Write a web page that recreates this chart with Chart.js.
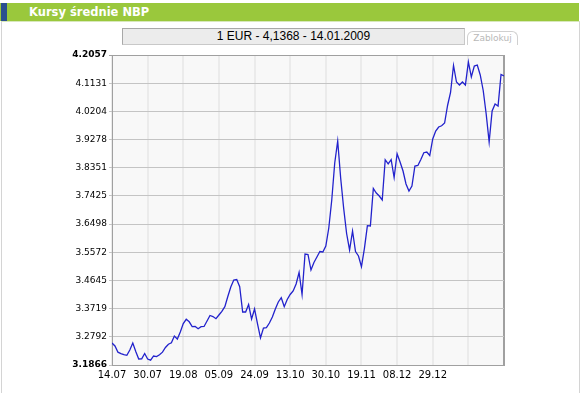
<!DOCTYPE html>
<html>
<head>
<meta charset="utf-8">
<script src="https://cdn.jsdelivr.net/npm/chart.js@4/dist/chart.umd.min.js"></script>
<style>
  html, body { margin: 0; padding: 0; background: #fff; }
  body { width: 584px; height: 393px; position: relative; overflow: hidden; font-family: "DejaVu Sans", Verdana, sans-serif; }
  #frame { position: absolute; left: 1px; top: 21px; width: 577px; height: 380px; border-left: 1px solid #d4d4d4; border-right: 1px solid #d4d4d4; border-top: 1px solid #d8e8bc; }
  #bar { position: absolute; left: 0; top: 3px; width: 579px; height: 18px; background: #9ac83c; }
  #stripe { position: absolute; left: 1px; top: 3px; width: 6px; height: 18px; background: #2b4f8f; }
  #title { position: absolute; left: 29px; top: 4px; line-height: 16px; color: #fff; font-weight: bold; font-size: 11.5px; font-family: "DejaVu Sans", Verdana, sans-serif; }
  #info { position: absolute; left: 122px; top: 28px; width: 341px; height: 15px; background: #ececec; border: 1px solid #a8a8a8; border-right-color: #c8c8c8; border-bottom-color: #c8c8c8; text-align: center; font-family: "Liberation Sans", Arial, sans-serif; font-size: 12px; line-height: 15px; color: #000; }
  #lock { position: absolute; left: 467px; top: 31px; width: 49px; height: 13px; border: 1px solid #d0d0d0; border-bottom: none; border-radius: 6px 6px 0 0; font-family: "DejaVu Sans", Verdana, sans-serif; font-size: 9px; line-height: 13px; color: #b8b8b8; text-align: center; background: #fff; }
  canvas { position: absolute; left: 0; top: 0; }
</style>
</head>
<body>
<div id="frame"></div>
<div id="bar"></div>
<div id="stripe"></div>
<div id="title">Kursy średnie NBP</div>
<div id="info"></div>
<div id="lock">Zablokuj</div>
<canvas id="c" width="584" height="393"></canvas>
<script>
// ---- data ----
const currency = "EUR";
const lastDate = "14.01.2009";
const xTickLabels = ["14.07", "30.07", "19.08", "05.09", "24.09", "13.10", "30.10", "19.11", "08.12", "29.12", "", ""];
const yTickValues = [3.1866, 3.2792, 3.3719, 3.4645, 3.5572, 3.6498, 3.7425, 3.8351, 3.9278, 4.0204, 4.1131, 4.2057];
const eurRates = [
  3.2589, 3.2491, 3.2287, 3.2238, 3.2205, 3.2185, 3.2359, 3.2589, 3.2310, 3.2063,
  3.2070, 3.2244, 3.2063, 3.2024, 3.2162, 3.2142, 3.2201, 3.2287, 3.2441, 3.2547,
  3.2596, 3.2819, 3.2721, 3.2951, 3.3230, 3.3368, 3.3286, 3.3128, 3.3132, 3.3059,
  3.3128, 3.3132, 3.3313, 3.3493, 3.3460, 3.3388, 3.3510, 3.3628, 3.3783, 3.4118,
  3.4430, 3.4660, 3.4677, 3.4440, 3.3608, 3.3608, 3.3855, 3.3378, 3.3707, 3.3214,
  3.2754, 3.3082, 3.3092, 3.3247, 3.3444, 3.3707, 3.3937, 3.4079, 3.3783, 3.4019,
  3.4184, 3.4299, 3.4529, 3.4907, 3.4184, 3.5515, 3.5499, 3.4989, 3.5236, 3.5417,
  3.5597, 3.5581, 3.5778, 3.6370, 3.7290, 3.8507, 3.9230, 3.8014, 3.7027, 3.6189,
  3.5647, 3.6271, 3.5597, 3.5449, 3.5098, 3.5702, 3.6445, 3.6436, 3.7668, 3.7520,
  3.7422, 3.7290, 3.8615, 3.8480, 3.8615, 3.8030, 3.8812, 3.8540, 3.8244, 3.7816,
  3.7586, 3.7751, 3.8408, 3.8424, 3.8622, 3.8845, 3.8868, 3.8753, 3.9296, 3.9559,
  3.9690, 3.9730, 3.9822, 4.0397, 4.0824, 4.1712, 4.1169, 4.1071, 4.1169, 4.1071,
  4.1827, 4.1334, 4.1695, 4.1728, 4.1400, 4.0890, 4.0117, 3.9197, 4.0216, 4.0446,
  4.0380, 4.1416, 4.1368
];
const daysPerLabel = 12;

// ---- header text from data ----
const lastRate = eurRates[eurRates.length - 1];
document.getElementById('info').textContent =
  "1 " + currency + " - " + lastRate.toFixed(4).replace('.', ',') + " - " + lastDate;

const points = eurRates.map((v, i) => ({ x: i, y: v }));
const yMin = yTickValues[0], yMax = yTickValues[yTickValues.length - 1];
const xMax = eurRates.length - 1;

const plotBg = {
  id: 'plotBg',
  beforeDraw(chart) {
    const a = chart.chartArea, ctx = chart.ctx;
    ctx.save();
    ctx.fillStyle = '#f8f8f8';
    ctx.fillRect(a.left, a.top, a.right - a.left, a.bottom - a.top);
    ctx.restore();
  }
};

new Chart(document.getElementById('c'), {
  type: 'line',
  data: {
    datasets: [{
      data: points,
      borderColor: '#2222cc',
      borderWidth: 1.3,
      pointRadius: 0,
      tension: 0,
      fill: false
    }]
  },
  options: {
    responsive: false,
    animation: false,
    plugins: { legend: { display: false }, tooltip: { enabled: false } },
    layout: { padding: { left: 72, top: 55, right: 80, bottom: 8 } },
    scales: {
      x: {
        type: 'linear',
        min: 0,
        max: xMax,
        afterBuildTicks(scale) {
          const t = [];
          for (let v = 0; v <= xMax; v += daysPerLabel) t.push({ value: v });
          scale.ticks = t;
        },
        afterFit(scale) { scale.height = 20; },
        ticks: {
          autoSkip: false,
          maxRotation: 0,
          padding: 4,
          color: '#000',
          font: { family: '"DejaVu Sans", Verdana, sans-serif', size: 10 },
          callback: (v) => xTickLabels[Math.round(v / daysPerLabel)] || ''
        },
        grid: {
          drawTicks: false,
          lineWidth: 2,
          color: (ctx) => (ctx.tick && ctx.tick.value === xMax) ? '#a0a0a0' : '#ebebeb'
        },
        border: { display: true, color: '#a0a0a0', width: 1 }
      },
      y: {
        type: 'linear',
        min: yMin,
        max: yMax,
        afterBuildTicks(scale) { scale.ticks = yTickValues.map(v => ({ value: v })); },
        afterFit(scale) { scale.width = 40; },
        ticks: {
          autoSkip: false,
          padding: 2,
          color: '#000',
          font: (ctx) => ({
            family: '"DejaVu Sans", Verdana, sans-serif',
            size: 9,
            weight: (ctx.index === 0 || ctx.index === yTickValues.length - 1) ? 'bold' : 'normal'
          }),
          callback: (v) => Number(v).toFixed(4)
        },
        grid: {
          drawTicks: true,
          tickLength: 3,
          lineWidth: 1,
          color: (ctx) => (ctx.tick && ctx.tick.value === yMax) ? '#a0a0a0' : '#c4c4c4'
        },
        border: { display: true, color: '#a0a0a0', width: 1 }
      }
    }
  },
  plugins: [plotBg]
});
</script>
</body>
</html>
